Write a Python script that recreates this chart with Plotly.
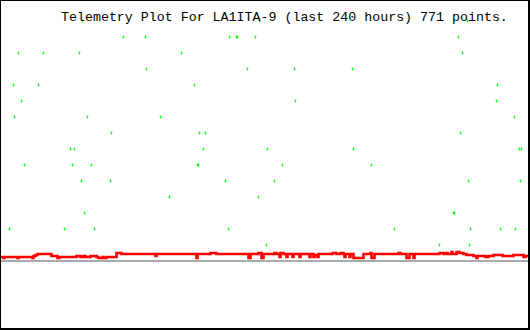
import plotly.graph_objects as go

# Green channel: discrete levels (value units), time position (sample column 0..529)
green_t = [82, 259, 467,
           123, 145, 229, 236, 237, 255, 458,
           18, 43, 79, 181, 462,
           146, 247, 294, 352,
           13, 38, 194, 497,
           21, 295, 496,
           14, 87, 160, 514,
           111, 199, 205, 460,
           70, 74, 203, 267, 353, 519, 521,
           24, 72, 91, 197, 198, 282, 371,
           81, 110, 225, 274, 468, 520,
           169, 258,
           84, 453, 454,
           9, 64, 94, 228, 394, 470, 500, 515,
           266, 439, 469]
green_v = [240, 240, 240,
           224, 224, 224, 224, 224, 224, 224,
           208, 208, 208, 208, 208,
           192, 192, 192, 192,
           176, 176, 176, 176,
           160, 160, 160,
           144, 144, 144, 144,
           128, 128, 128, 128,
           112, 112, 112, 112, 112, 112, 112,
           96, 96, 96, 96, 96, 96, 96,
           80, 80, 80, 80, 80, 80,
           64, 64,
           48, 48, 48,
           32, 32, 32, 32, 32, 32, 32, 32,
           16, 16, 16]

# Red channel: step values
red_t = [0, 3, 4, 17, 18, 32, 33, 35, 37, 51, 57, 59, 76, 80, 83, 85, 90, 96, 98, 102, 103, 106,
         116, 121, 155, 156, 196, 197, 210, 216, 248, 250, 258, 261, 263, 274, 276, 279, 280, 283,
         286, 287, 292, 293, 299, 300, 309, 310, 313, 314, 317, 318, 332, 336, 340, 343, 344, 345,
         349, 350, 353, 363, 370, 371, 374, 398, 400, 406, 409, 413, 414, 439, 443, 445, 447, 451,
         452, 456, 459, 463, 466, 473, 476, 477, 485, 488, 493, 502, 513, 523, 525, 529]
red_v = [4, 3, 4, 3, 4, 3, 5, 6, 7, 5, 3, 4, 5, 4, 5, 4, 5, 4, 3, 4, 3, 4,
         8, 7, 5, 7, 3, 7, 8, 7, 3, 7, 8, 3, 7, 8, 7, 4, 8, 7,
         4, 7, 4, 7, 4, 7, 4, 7, 4, 6, 4, 7, 8, 7, 8, 7, 4, 7,
         4, 7, 3, 7, 8, 3, 7, 8, 7, 3, 7, 3, 7, 8, 7, 8, 7, 9,
         7, 9, 8, 7, 6, 5, 3, 5, 4, 5, 6, 5, 6, 4, 5, 5]

# Gray reference channel
gray_t = [0, 529]
gray_v = [0, 0]

title_text = "Telemetry Plot For LA1ITA-9 (last 240 hours) 771 points."

W, H = 530, 330

fig = go.Figure()
fig.add_trace(go.Scatter(x=gray_t, y=gray_v, mode="lines",
                         line=dict(color="#aaaaaa", width=2), hoverinfo="skip"))
fig.add_trace(go.Scatter(x=red_t, y=red_v, mode="lines",
                         line=dict(color="#ff0000", width=2.6, shape="hv"), hoverinfo="skip"))
fig.add_trace(go.Scatter(x=green_t, y=green_v, mode="markers",
                         marker=dict(symbol="line-ns", size=2,
                                     line=dict(color="#00ff00", width=1.4), color="#00ff00"),
                         hoverinfo="skip"))

fig.add_annotation(text=title_text, xref="paper", yref="paper",
                   x=58.5 / W, y=1 - 17.5 / H, xanchor="left", yanchor="middle",
                   showarrow=False,
                   font=dict(family="Liberation Mono", size=13.3, color="black"))

# border
fig.add_shape(type="line", xref="paper", yref="paper", x0=0, x1=1, y0=1 - 0.5 / H, y1=1 - 0.5 / H,
              line=dict(color="black", width=1), layer="above")
fig.add_shape(type="line", xref="paper", yref="paper", x0=0.5 / W, x1=0.5 / W, y0=0, y1=1,
              line=dict(color="black", width=1), layer="above")
fig.add_shape(type="line", xref="paper", yref="paper", x0=529 / W, x1=529 / W, y0=0, y1=1,
              line=dict(color="black", width=2), layer="above")
fig.add_shape(type="line", xref="paper", yref="paper", x0=0, x1=1, y0=1 - 329 / H, y1=1 - 329 / H,
              line=dict(color="black", width=2), layer="above")

fig.update_layout(width=W, height=H, margin=dict(l=0, r=0, t=0, b=0),
                  paper_bgcolor="white", plot_bgcolor="white", showlegend=False,
                  xaxis=dict(range=[-0.5, 529.5], visible=False, fixedrange=True),
                  yaxis=dict(range=[-69, 261], visible=False, fixedrange=True))

fig.write_html("out.html", config={"displayModeBar": False})
